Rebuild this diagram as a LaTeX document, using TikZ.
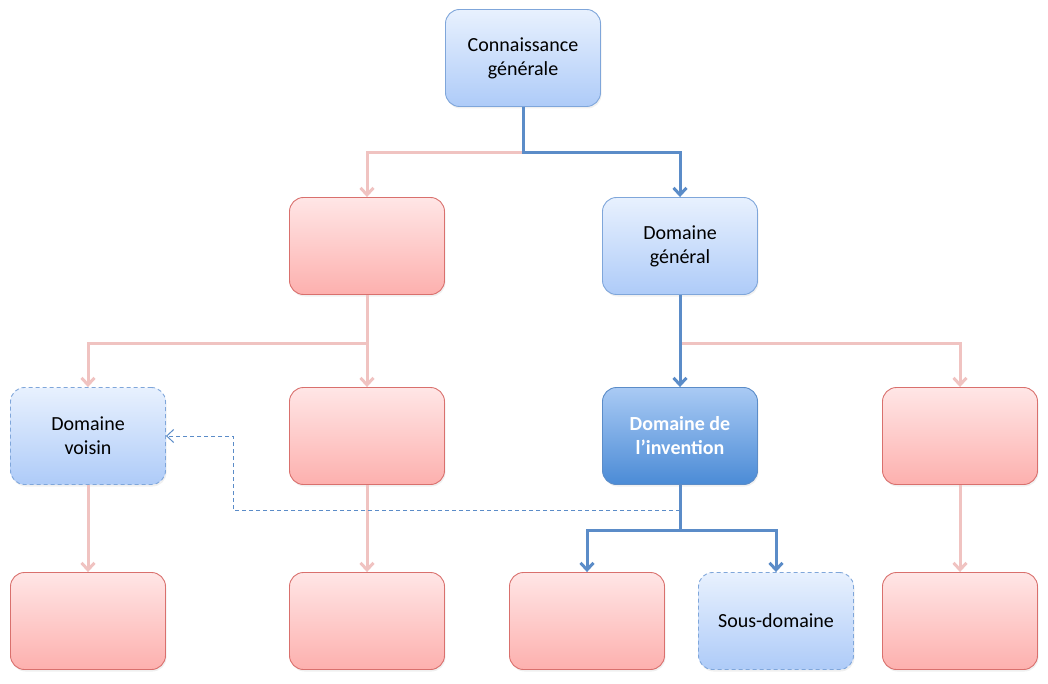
\documentclass[tikz,border=0pt]{standalone}
\usepackage{fontspec}
\setmainfont{Carlito}
\usepackage{tikz}
\usetikzlibrary{arrows.meta,shadows}

\definecolor{boxblue}{HTML}{7FA6DA}
\definecolor{boxred}{HTML}{D9706D}
\definecolor{lineblue}{HTML}{5B8CC8}
\definecolor{linepink}{HTML}{F0C3C1}
\definecolor{bluetop}{HTML}{E8F1FE}
\definecolor{bluebot}{HTML}{AECBF8}
\definecolor{redtop}{HTML}{FFE6E6}
\definecolor{redbot}{HTML}{FDB0AE}
\definecolor{darktop}{HTML}{A9CAF4}
\definecolor{darkbot}{HTML}{4B8BD6}

\begin{document}
\begin{tikzpicture}[x=1pt,y=-1pt]

		% Setup the styles for the boxes and lines
		\tikzset{box style/.style={rectangle,
				rounded corners=14pt,
				minimum width=155pt,
				minimum height=97pt,
				align=center,
				line width=0.9pt,
				font=\fontsize{20}{24}\selectfont,
				drop shadow={opacity=0.12, shadow xshift=1pt, shadow yshift=-2pt}},
			blue box/.style={box style, draw=boxblue,
				top color=bluetop, bottom color=bluebot},
			red box/.style={box style, draw=boxred,
				top color=redtop, bottom color=redbot},
			dark box/.style={box style, draw=lineblue,
				top color=darktop, bottom color=darkbot,
				text=white, font=\fontsize{20}{24}\selectfont\bfseries},
			light box/.style={blue box, dash pattern=on 4pt off 3pt},
			pink line/.style={draw=linepink, line width=3pt},
			blue line/.style={draw=lineblue, line width=3pt},
			link line/.style={draw=lineblue, line width=1pt, dash pattern=on 4pt off 3pt},
			tip/.style={-{Straight Barb[length=7pt,width=13pt]}}}

		\useasboundingbox (0,0) rectangle (1048,684);

		% Draw the boxes
		\node[blue box]  at (523,58)  (know)      {Connaissance\\générale};
		\node[red box]   at (367,246) (r2)        {};
		\node[blue box]  at (680,246) (general)   {Domaine\\général};
		\node[light box] at (88,436)  (voisin)    {Domaine\\voisin};
		\node[red box]   at (367,436) (r3)        {};
		\node[dark box]  at (680,436) (invention) {Domaine de\\l’invention};
		\node[red box]   at (960,436) (r3d)       {};
		\node[red box]   at (88,621)  (r4a)       {};
		\node[red box]   at (367,621) (r4b)       {};
		\node[red box]   at (587,621) (r4c)       {};
		\node[light box] at (776,621) (sous)      {Sous-domaine};
		\node[red box]   at (960,621) (r4e)       {};

		% Junctions
		\coordinate (j1) at (523,153);
		\coordinate (j2) at (367,343);
		\coordinate (j3) at (680,343);
		\coordinate (j4) at (680,530);
		\coordinate (j5) at (680,510);
		\coordinate (j6) at (233,510);

		% Connect the boxes
		\draw[pink line, tip] (j1) -| (r2);
		\draw[pink line, tip] (r2) -- (j2) -| (voisin);
		\draw[pink line, tip] (j2) -- (r3);
		\draw[pink line, tip] (j3) -| (r3d);
		\draw[pink line, tip] (voisin) -- (r4a);
		\draw[pink line, tip] (r3) -- (r4b);
		\draw[pink line, tip] (r3d) -- (r4e);
		\draw[link line, tip] (j5) -- (j6) |- (voisin);
		\draw[blue line, tip] (know) -- (j1) -| (general);
		\draw[blue line, tip] (general) -- (invention);
		\draw[blue line, tip] (invention) -- (j4) -| (r4c);
		\draw[blue line, tip] (j4) -| (sous);
\end{tikzpicture}
\end{document}
